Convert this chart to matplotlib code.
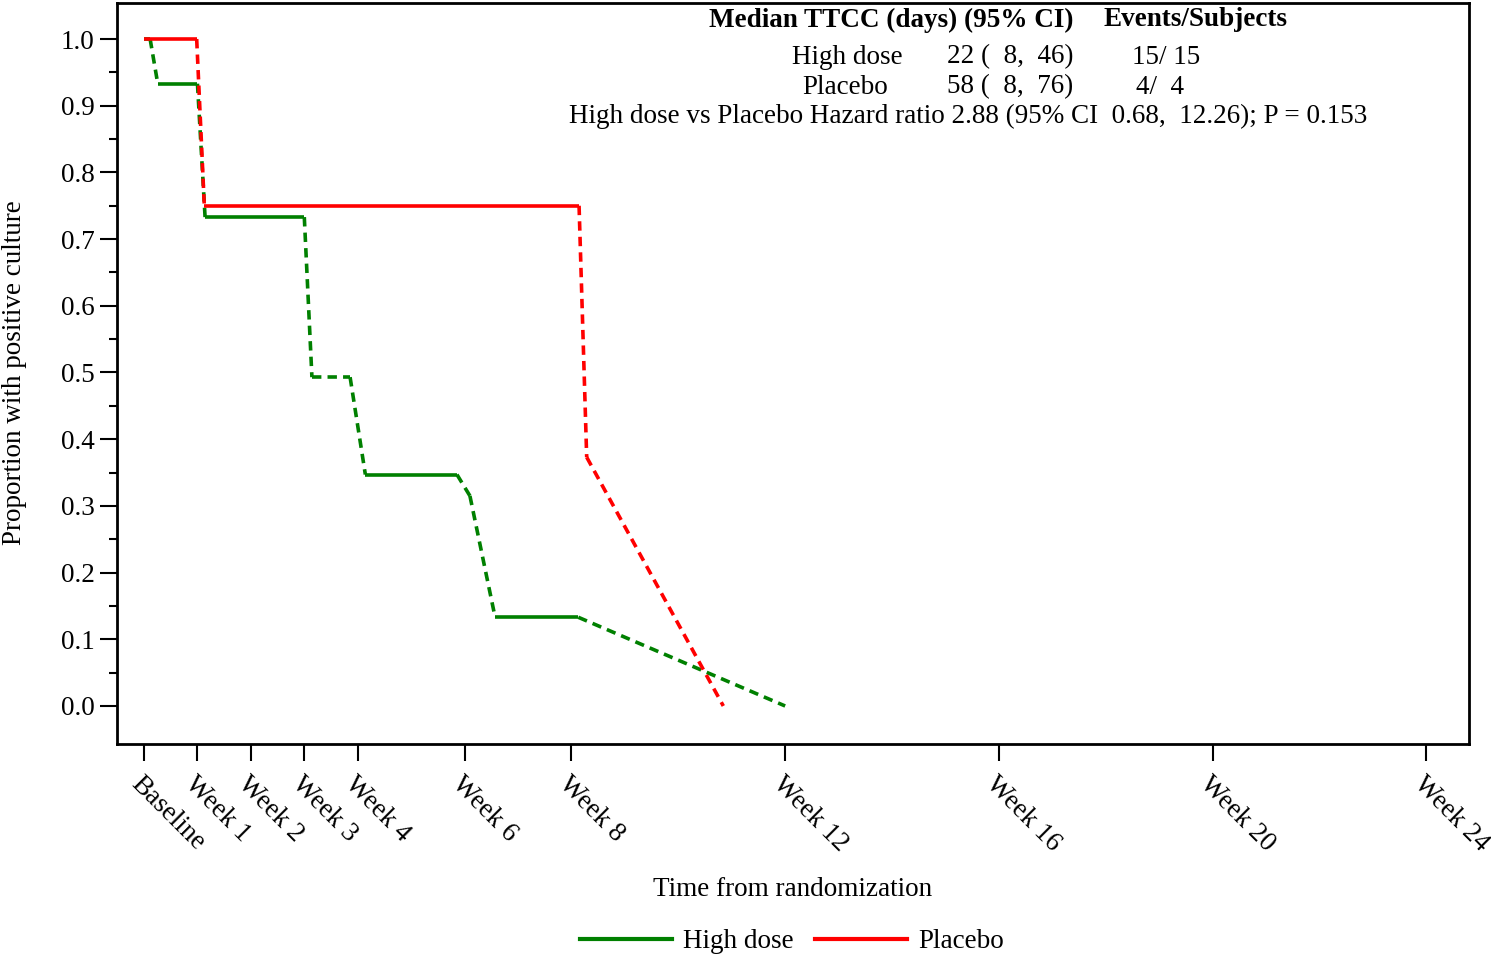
import matplotlib
matplotlib.use('Agg')
import matplotlib.pyplot as plt
import matplotlib.transforms as mtransforms
from matplotlib.lines import Line2D
from matplotlib.ticker import FixedLocator

plt.rcParams['font.family'] = ['Liberation Serif', 'DejaVu Serif']

# week tick positions (days) and labels
tick_days = [0, 7, 14, 21, 28, 42, 56, 84, 112, 140, 168]
tick_labels = ['Baseline', 'Week 1', 'Week 2', 'Week 3', 'Week 4', 'Week 6',
               'Week 8', 'Week 12', 'Week 16', 'Week 20', 'Week 24']

# curve vertices (day, proportion); kind describes segment i -> i+1
hd_days = [0, 0.8, 1.8, 7, 8, 21, 22, 27, 29, 41, 42.7, 46, 56.9, 84]
hd_prop = [1.0, 1.0, 0.933, 0.933, 0.733, 0.733, 0.493, 0.493, 0.347, 0.347,
           0.315, 0.133, 0.133, 0.0]
hd_kind = ['d', 'd', 's', 'd', 's', 'd', 'd', 'd', 's', 'd', 'd', 's', 'd']

pl_days = [0, 6.9, 7.9, 57.0, 58.0, 75.9]
pl_prop = [1.0, 1.0, 0.75, 0.75, 0.373, 0.0]
pl_kind = ['s', 'd', 's', 'd', 'd']

GREEN = '#008000'
RED = '#ff0000'
FS = 19.5

fig = plt.figure(figsize=(14.91, 9.57), dpi=100)
ax = fig.add_axes([117 / 1491, 1 - 744 / 957, (1469 - 117) / 1491, (744 - 3) / 957])


def draw_curve(days, prop, kind, color):
    for i, k in enumerate(kind):
        ls = '-' if k == 's' else (0, (2.6, 1.7))
        ax.plot(days[i:i + 2], prop[i:i + 2], color=color, lw=2.6,
                linestyle=ls, solid_capstyle='butt', dash_capstyle='butt')


draw_curve(hd_days, hd_prop, hd_kind, GREEN)
draw_curve(pl_days, pl_prop, pl_kind, RED)

ax.set_xlim(-3.54, 173.6)
ax.set_ylim(-0.057, 1.054)
ax.set_xticks(tick_days)
ax.set_xticklabels(tick_labels, rotation=-45, ha='left', va='top',
                   rotation_mode='anchor', fontsize=FS)
shift = mtransforms.ScaledTranslation(-5 / 100, 3 / 100, fig.dpi_scale_trans)
for lab in ax.get_xticklabels():
    lab.set_transform(lab.get_transform() + shift)
ax.set_yticks([i / 10 for i in range(11)])
ax.set_yticklabels([f'{i / 10:.1f}' for i in range(11)], fontsize=FS)
ax.yaxis.set_minor_locator(FixedLocator([0.05 + i / 10 for i in range(10)]))
ax.tick_params(axis='x', length=12, width=1.5, pad=8)
ax.tick_params(axis='y', which='major', length=12, width=1.5, pad=4)
ax.tick_params(axis='y', which='minor', length=6, width=1.5)
for s in ax.spines.values():
    s.set_linewidth(2)

fig.text(793 / 1491, 1 - 889 / 957, 'Time from randomization', fontsize=FS,
         ha='center', va='center')
fig.text(15 / 1491, 1 - 373 / 957, 'Proportion with positive culture', rotation=90,
         fontsize=FS, ha='center', va='center')


# summary table
def ft(x, y, s, bold=False, ha='center'):
    fig.text(x / 1491, 1 - y / 957, s, fontsize=FS, ha=ha, va='center',
             fontweight='bold' if bold else 'normal')


ft(891, 20, 'Median TTCC (days) (95% CI)', bold=True)
ft(1195, 20, 'Events/Subjects', bold=True)
ft(847, 57, 'High dose')
ft(1010, 57, '22 (  8,  46)')
ft(1166, 57, '15/ 15')
ft(845, 87, 'Placebo')
ft(1010, 87, '58 (  8,  76)')
ft(1160, 87, '4/  4')
ft(968, 116, 'High dose vs Placebo Hazard ratio 2.88 (95% CI  0.68,  12.26); P = 0.153')

handles = [Line2D([], [], color=GREEN, lw=3), Line2D([], [], color=RED, lw=3)]
fig.legend(handles, ['High dose', 'Placebo'], loc='center',
           bbox_to_anchor=(792 / 1491, 1 - 942 / 957), ncol=2, frameon=False,
           fontsize=FS, handlelength=3.4, handletextpad=0.4, columnspacing=0.8)

fig.savefig('out.png', dpi=100)
